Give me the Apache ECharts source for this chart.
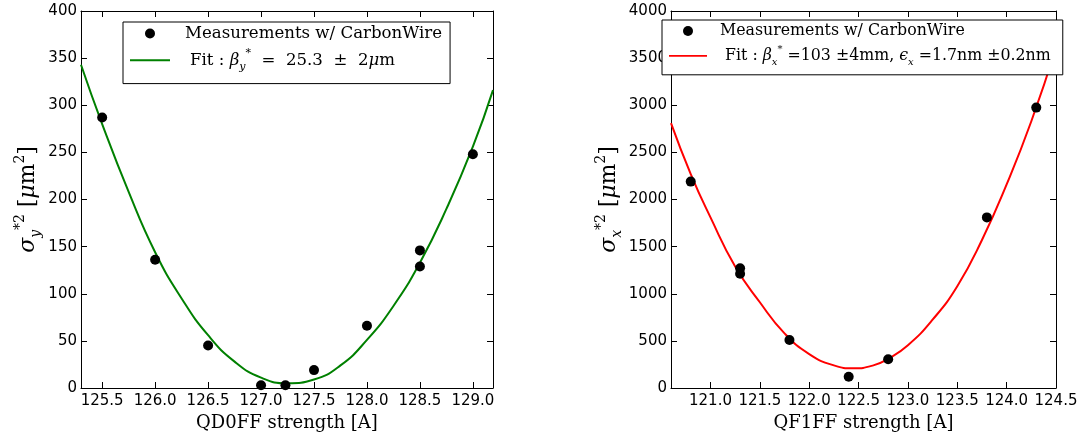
<!DOCTYPE html>
<html>
<head>
<meta charset="utf-8">
<script src="https://cdn.jsdelivr.net/npm/echarts@6/dist/echarts.min.js"></script>
<style>
html,body{margin:0;padding:0;background:#fff;}
#chart{width:1085px;height:438px;}
</style>
</head>
<body>
<div id="chart"></div>
<script>
// ---- Data ----
const leftMeasX = [125.5, 126.0, 126.5, 127.0, 127.23, 127.5, 128.0, 128.5, 128.5, 129.0];
const leftMeasY = [287, 136, 45, 3, 3, 19, 66, 146, 129, 248];
const leftFitX = [125.3, 125.5, 125.75, 126.0, 126.25, 126.5, 126.75, 127.0, 127.25, 127.5, 127.75, 128.0, 128.25, 128.5, 128.75, 129.0, 129.19];
const leftFitY = [343, 280, 208, 144, 95, 56, 28, 11, 5, 9, 24, 51, 87, 133, 190, 256, 316];

const rightMeasX = [120.8, 121.3, 121.3, 121.8, 122.4, 122.8, 123.8, 124.3];
const rightMeasY = [2190, 1270, 1213, 510, 120, 305, 1810, 2975];
const rightFitX = [120.6, 120.8, 121.0, 121.25, 121.5, 121.75, 122.0, 122.25, 122.45, 122.65, 122.8, 123.0, 123.25, 123.5, 123.75, 124.0, 124.25, 124.5];
const rightFitY = [2810, 2270, 1810, 1290, 910, 580, 360, 240, 209, 240, 310, 454, 725, 1080, 1570, 2160, 2830, 3610];

const leftXRange = [125.3, 129.19];
const rightXRange = [120.6, 124.5];
const leftYRange = [0, 400, 50];
const rightYRange = [0, 4000, 500];

const measName = 'Measurements w/ CarbonWire';
const fitYName = 'FitY';
const fitXName = 'FitX';

function zip(a, b) { return a.map((v, i) => [v, b[i]]); }

const SANS = 'DejaVu Sans';
const SERIF = 'DejaVu Serif';

function xLabelFmt(v) {
  const r = Math.round(v * 2) / 2;
  return Math.abs(v - r) < 1e-6 ? r.toFixed(1) : '';
}
function yLabelFmt(v) { return String(v); }

function mathRich(base) {
  return {
    t: { fontFamily: SERIF, fontSize: base, lineHeight: base + 8, color: '#000' },
    i: { fontFamily: SERIF, fontStyle: 'italic', fontSize: base, lineHeight: base + 8, color: '#000' },
    sub: { fontFamily: SERIF, fontStyle: 'italic', fontSize: Math.round(base * 0.65), lineHeight: Math.round(base * 0.7), verticalAlign: 'bottom', color: '#000' },
    sup: { fontFamily: SERIF, fontSize: Math.round(base * 0.65), lineHeight: Math.round(base * 0.7), verticalAlign: 'top', color: '#000' },
    p1: { width: 10 },
    p2: { width: 15 },
    p3: { width: 8 },
    p4: { width: 13 }
  };
}

function xAxisPair(gridIndex, range, name) {
  const common = {
    type: 'value', gridIndex: gridIndex, min: range[0], max: range[1], splitNumber: 8,
    splitLine: { show: false },
    axisLine: { show: true, onZero: false, lineStyle: { color: '#000', width: 1 } },
    axisTick: { show: true, inside: true, length: 6, lineStyle: { color: '#000' } }
  };
  return [
    Object.assign({}, common, {
      position: 'bottom',
      axisLabel: { show: true, margin: 6, color: '#000', fontFamily: SANS, fontSize: 15, formatter: xLabelFmt },
      name: name, nameLocation: 'middle', nameGap: 23,
      nameTextStyle: { fontFamily: SERIF, fontSize: 18, color: '#000' }
    }),
    Object.assign({}, common, { position: 'top', axisLabel: { show: false } })
  ];
}

function yAxisPair(gridIndex, range, gap, sub) {
  const common = {
    type: 'value', gridIndex: gridIndex, min: range[0], max: range[1], interval: range[2],
    splitLine: { show: false },
    axisLine: { show: true, onZero: false, lineStyle: { color: '#000', width: 1 } },
    axisTick: { show: true, inside: true, length: 6, lineStyle: { color: '#000' } }
  };
  return [
    Object.assign({}, common, {
      position: 'left',
      axisLabel: { show: true, margin: 4, color: '#000', fontFamily: SANS, fontSize: 15, formatter: yLabelFmt },
      name: '{i|σ}{sub|' + sub + '}{sup|*2}  {t|[}{i|μ}{t|m}{sup|2}{t|]}',
      nameLocation: 'middle', nameGap: gap,
      nameTextStyle: { rich: mathRich(22) }
    }),
    Object.assign({}, common, { position: 'right', axisLabel: { show: false } })
  ];
}

const xl = xAxisPair(0, leftXRange, 'QD0FF strength [A]');
const xr = xAxisPair(1, rightXRange, 'QF1FF strength [A]');
const yl = yAxisPair(0, leftYRange, 38, 'y');
const yr = yAxisPair(1, rightYRange, 47, 'x');

const LINE_ICON = 'path://M0,0L40,0L40,2L0,2Z';

const option = {
  backgroundColor: '#fff',
  animation: false,
  grid: [
    { left: 81, top: 11, width: 412, height: 377 },
    { left: 671, top: 11, width: 385, height: 377 }
  ],
  xAxis: [xl[0], xl[1], xr[0], xr[1]],
  yAxis: [yl[0], yl[1], yr[0], yr[1]],
  legend: [
    {
      left: 123, top: 22, orient: 'vertical',
      padding: [3, 8, 11, 7], itemGap: 6, itemWidth: 40, itemHeight: 10,
      backgroundColor: '#fff', borderColor: '#000', borderWidth: 1, borderRadius: 0,
      selectedMode: false,
      data: [
        { name: measName, icon: 'circle' },
        { name: fitYName, icon: LINE_ICON, itemStyle: { color: '#008000' } }
      ],
      textStyle: { fontFamily: SERIF, fontSize: 16.6, color: '#000', rich: mathRich(16.6) },
      formatter: function (n) {
        if (n === fitYName) return '{p2|}{t|Fit : }{i|β}{sub|y}{sup|*}{t|  =  25.3  ±  2}{i|μ}{t|m}';
        return '{p1|}{t|' + n + '}';
      }
    },
    {
      left: 662, top: 20, orient: 'vertical',
      padding: [3, 12, 7, 7], itemGap: 5, itemWidth: 38, itemHeight: 10,
      backgroundColor: '#fff', borderColor: '#000', borderWidth: 1, borderRadius: 0,
      selectedMode: false,
      data: [
        { name: measName, icon: 'circle' },
        { name: fitXName, icon: LINE_ICON, itemStyle: { color: '#ff0000' } }
      ],
      textStyle: { fontFamily: SERIF, fontSize: 15.8, color: '#000', rich: mathRich(15.8) },
      formatter: function (n) {
        if (n === fitXName) return '{p4|}{t|Fit : }{i|β}{sub|x}{sup|*}{t| =103 ±4mm, }{i|ϵ}{sub|x}{t| =1.7nm ±0.2nm}';
        return '{p3|}{t|' + n + '}';
      }
    }
  ],
  series: [
    {
      name: fitYName, type: 'line', xAxisIndex: 0, yAxisIndex: 0,
      data: zip(leftFitX, leftFitY), smooth: true, symbol: 'none', showSymbol: false,
      lineStyle: { color: '#008000', width: 2 }, itemStyle: { color: '#008000' }, z: 2
    },
    {
      name: measName, type: 'scatter', xAxisIndex: 0, yAxisIndex: 0,
      data: zip(leftMeasX, leftMeasY), symbol: 'circle', symbolSize: 10,
      itemStyle: { color: '#000', opacity: 1 }, z: 3
    },
    {
      name: fitXName, type: 'line', xAxisIndex: 2, yAxisIndex: 2,
      data: zip(rightFitX, rightFitY), smooth: true, symbol: 'none', showSymbol: false,
      lineStyle: { color: '#ff0000', width: 2 }, itemStyle: { color: '#ff0000' }, z: 2
    },
    {
      name: measName, type: 'scatter', xAxisIndex: 2, yAxisIndex: 2,
      data: zip(rightMeasX, rightMeasY), symbol: 'circle', symbolSize: 10,
      itemStyle: { color: '#000', opacity: 1 }, z: 3
    }
  ]
};

const chart = echarts.init(document.getElementById('chart'), null, { renderer: 'canvas' });
chart.setOption(option);
</script>
</body>
</html>
